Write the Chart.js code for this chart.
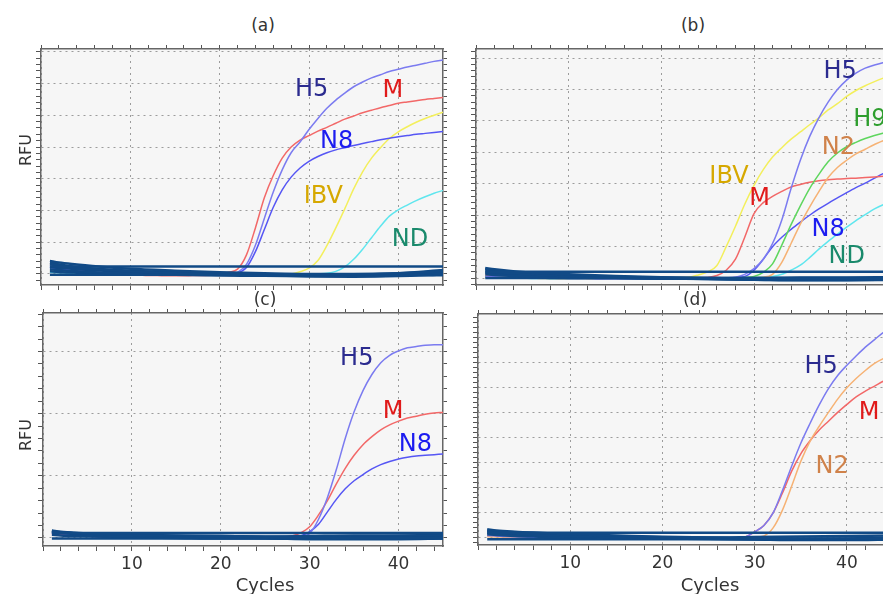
<!DOCTYPE html>
<html>
<head>
<meta charset="utf-8">
<script src="https://cdn.jsdelivr.net/npm/chart.js@4.4.1/dist/chart.umd.min.js"></script>
<style>
  body { margin: 0; width: 883px; height: 594px; overflow: hidden; background: #fff; position: relative;
         font-family: 'DejaVu Sans', sans-serif; color: #333; }
  .box { position: absolute; }
  .txt { position: absolute; transform: translate(-50%, -50%); white-space: nowrap; }
  .rot { transform: translate(-50%, -50%) rotate(-90deg); }
</style>
</head>
<body>
<div class="box" style="left:33px;top:43px"><canvas id="ca" width="416" height="248"></canvas></div>
<div class="box" style="left:468px;top:43px"><canvas id="cb" width="431" height="248"></canvas></div>
<div class="box" style="left:35px;top:307px"><canvas id="cc" width="414" height="269"></canvas></div>
<div class="box" style="left:470px;top:308px"><canvas id="cd" width="429" height="267"></canvas></div>

<div class="txt" style="left:263px;top:25px;font-size:17px">(a)</div>
<div class="txt" style="left:693px;top:25px;font-size:17px">(b)</div>
<div class="txt" style="left:265px;top:299px;font-size:17px">(c)</div>
<div class="txt" style="left:695px;top:299px;font-size:17px">(d)</div>
<div class="txt rot" style="left:25px;top:150px;font-size:16px">RFU</div>
<div class="txt rot" style="left:25px;top:435px;font-size:16px">RFU</div>
<div class="txt" style="left:265px;top:584px;font-size:18px">Cycles</div>
<div class="txt" style="left:710px;top:584px;font-size:18px">Cycles</div>

<script>
// cycle numbers for the amplification curves
const cycles = [1,2,3,4,5,6,7,8,9,10,11,12,13,14,15,16,17,18,19,20,21,22,23,24,25,26,27,28,29,30,
  31,32,33,34,35,36,37,38,39,40,41,42,43,44,45];
// cycles where the baseline traces were read
const baseCycles = [1, 2, 4, 7, 10, 15, 20, 25, 30, 35, 40, 45];

// ---- panel (a) ----
const aH5 = [0.25,0.2,0.15,0.1,0.08,0.05,0.03,0.02,0.0,-0.01,-0.02,-0.02,-0.03,-0.03,-0.03,-0.03,-0.03,-0.02,-0.02,-0.01,
  0.0,0.05,0.3,0.9,1.75,2.58,3.28,3.82,4.16,4.55,4.9,5.22,5.48,5.7,5.9,6.05,6.18,6.28,6.38,6.45,6.52,6.58,6.64,6.7,6.74];
const aM = [0.3,0.25,0.18,0.12,0.08,0.05,0.02,0.0,-0.02,-0.03,-0.04,-0.05,-0.05,-0.06,-0.06,-0.06,-0.05,-0.05,-0.04,-0.02,
  0.05,0.15,0.6,1.45,2.4,3.1,3.65,4.0,4.22,4.36,4.5,4.62,4.75,4.88,4.98,5.08,5.16,5.24,5.31,5.38,5.42,5.46,5.5,5.53,5.56];
const aN8 = [0.2,0.16,0.12,0.08,0.05,0.03,0.01,0.0,-0.01,-0.02,-0.02,-0.03,-0.03,-0.03,-0.03,-0.03,-0.02,-0.02,-0.02,-0.01,0.0,
  0.03,0.2,0.7,1.4,2.1,2.65,3.05,3.34,3.55,3.7,3.82,3.91,3.98,4.05,4.11,4.17,4.23,4.28,4.32,4.36,4.4,4.43,4.46,4.49];
const aIBV = [0.1,0.08,0.06,0.04,0.03,0.02,0.01,0.0,0.0,-0.01,-0.01,-0.02,-0.02,-0.02,-0.03,-0.03,-0.03,-0.03,-0.03,-0.03,
  -0.03,-0.03,-0.03,-0.03,-0.02,-0.02,-0.01,0.0,0.07,0.18,0.42,0.89,1.45,2.05,2.68,3.22,3.65,3.98,4.27,4.48,4.64,4.78,4.9,5.0,5.1];
const aND = [0.05,0.04,0.03,0.02,0.01,0.0,0.0,-0.01,-0.01,-0.02,-0.02,-0.02,-0.03,-0.03,-0.03,-0.03,-0.03,-0.03,-0.03,-0.03,
  -0.03,-0.03,-0.03,-0.03,-0.03,-0.03,-0.02,-0.02,-0.02,-0.01,0.0,0.02,0.08,0.22,0.46,0.78,1.14,1.5,1.82,2.02,2.17,2.31,2.43,2.54,2.63];
const aBase = [
  [0.23,0.23,0.23,0.23,0.23,0.23,0.23,0.23,0.23,0.23,0.23,0.23],
  [0.41,0.36,0.3,0.22,0.16,0.1,0.05,0.02,0.0,0.0,0.02,0.08],
  [0.3,0.26,0.2,0.13,0.08,0.02,-0.02,-0.04,-0.06,-0.07,-0.04,0.04],
  [0.15,0.12,0.08,0.04,0.0,-0.03,-0.05,-0.06,-0.08,-0.09,-0.07,-0.02],
  [-0.03,-0.03,-0.03,-0.03,-0.03,-0.03,-0.03,-0.03,-0.03,-0.03,-0.03,-0.03],
  [0.35,0.3,0.22,0.15,0.1,0.05,0.0,-0.04,-0.05,-0.03,0.02,0.12],
  [0.22,0.19,0.15,0.1,0.06,0.03,0.01,-0.01,-0.03,-0.05,-0.05,-0.04],
  [0.08,0.06,0.04,0.02,0.01,0.0,-0.01,-0.02,-0.03,-0.04,-0.02,0.01]
];

// ---- panel (b) ----
const bIBV = [0.15,0.12,0.1,0.08,0.06,0.05,0.04,0.03,0.02,0.01,0.0,0.0,0.0,-0.01,-0.01,-0.01,-0.01,0.0,0.0,0.0,0.01,0.02,
  0.03,0.1,0.2,0.4,1.0,1.65,2.35,2.95,3.45,3.85,4.15,4.42,4.65,4.88,5.1,5.35,5.55,5.78,5.97,6.12,6.25,6.37,6.47];
const bM = [0.1,0.08,0.06,0.05,0.04,0.03,0.02,0.01,0.0,0.0,0.0,-0.01,-0.01,-0.01,-0.01,-0.01,-0.01,-0.01,0.0,0.0,0.0,0.0,0.01,0.01,
  0.02,0.08,0.25,0.6,1.3,2.05,2.4,2.6,2.76,2.9,2.98,3.05,3.1,3.13,3.15,3.17,3.18,3.2,3.22,3.24,3.26];
const bH5 = [0.05,0.04,0.03,0.02,0.01,0.0,0.0,-0.01,-0.01,-0.02,-0.02,-0.02,-0.03,-0.03,-0.03,-0.03,-0.03,-0.03,-0.03,-0.03,
  -0.03,-0.03,-0.02,-0.02,-0.01,0.0,0.01,0.03,0.12,0.3,0.6,1.1,1.85,2.85,3.75,4.5,5.1,5.6,6.0,6.3,6.52,6.68,6.78,6.86,6.93];
const bH9 = [0.05,0.04,0.03,0.02,0.01,0.0,0.0,-0.01,-0.01,-0.02,-0.02,-0.02,-0.02,-0.03,-0.03,-0.03,-0.03,-0.03,-0.03,-0.03,
  -0.03,-0.03,-0.02,-0.02,-0.01,-0.01,0.0,0.01,0.02,0.05,0.18,0.45,1.05,1.7,2.3,2.85,3.3,3.7,3.98,4.18,4.32,4.44,4.54,4.62,4.68];
const bN2 = [0.04,0.03,0.02,0.01,0.0,0.0,-0.01,-0.01,-0.02,-0.02,-0.02,-0.03,-0.03,-0.03,-0.03,-0.03,-0.03,-0.03,-0.03,-0.03,
  -0.03,-0.03,-0.03,-0.02,-0.02,-0.01,-0.01,0.0,0.01,0.02,0.03,0.12,0.5,1.1,1.72,2.26,2.75,3.2,3.52,3.75,3.95,4.1,4.25,4.38,4.46];
const bN8 = [0.06,0.05,0.04,0.03,0.02,0.01,0.0,0.0,-0.01,-0.01,-0.02,-0.02,-0.02,-0.02,-0.03,-0.03,-0.03,-0.03,-0.03,-0.03,
  -0.03,-0.02,-0.02,-0.01,-0.01,0.0,0.0,0.02,0.05,0.25,0.6,1.0,1.3,1.55,1.78,2.0,2.2,2.38,2.55,2.72,2.88,3.02,3.18,3.33,3.45];
const bND = [0.03,0.02,0.01,0.0,0.0,-0.01,-0.01,-0.02,-0.02,-0.02,-0.03,-0.03,-0.03,-0.03,-0.03,-0.03,-0.03,-0.03,-0.03,-0.03,
  -0.03,-0.03,-0.03,-0.03,-0.02,-0.02,-0.01,-0.01,0.0,0.01,0.03,0.05,0.12,0.25,0.41,0.65,0.92,1.17,1.4,1.62,1.83,2.02,2.2,2.34,2.45];
const bBase = [
  [0.2,0.2,0.2,0.2,0.2,0.2,0.2,0.2,0.2,0.2,0.2,0.2],
  [0.32,0.28,0.22,0.16,0.12,0.07,0.03,0.0,-0.02,-0.03,-0.03,-0.02],
  [0.25,0.2,0.15,0.1,0.06,0.02,0.0,-0.02,-0.05,-0.06,-0.06,-0.05],
  [0.12,0.1,0.07,0.04,0.02,0.0,-0.02,-0.03,-0.05,-0.07,-0.07,-0.06],
  [0.0,0.0,0.0,0.0,0.0,0.0,0.0,0.0,0.0,0.0,0.0,0.0],
  [0.3,0.25,0.18,0.12,0.08,0.04,0.01,0.0,0.0,0.02,0.02,0.03],
  [0.18,0.15,0.11,0.07,0.04,0.01,-0.01,-0.03,-0.04,-0.05,-0.04,-0.03]
];

// ---- panel (c) ----
const cH5 = [0.08,0.07,0.06,0.05,0.04,0.03,0.02,0.02,0.01,0.01,0,0,0,0,0,0,0,0,0,0,0,0,0,0,0,0,0,
  0.0,0.02,0.07,0.3,0.65,1.1,1.6,2.03,2.37,2.63,2.82,2.94,3.01,3.06,3.08,3.1,3.11,3.11];
const cM = [0.06,0.05,0.04,0.03,0.03,0.02,0.02,0.01,0.01,0,0,0,0,0,0,0,0,0,0,0,0,0,0,0,0,0,
  0.01,0.03,0.08,0.18,0.37,0.6,0.87,1.12,1.33,1.5,1.63,1.74,1.82,1.88,1.93,1.96,1.99,2.01,2.02];
const cN8 = [0.07,0.06,0.05,0.04,0.03,0.02,0.02,0.01,0.01,0,0,0,0,0,0,0,0,0,0,0,0,0,0,0,0,0,0,0,
  0.03,0.1,0.22,0.42,0.62,0.79,0.92,1.02,1.11,1.18,1.23,1.27,1.3,1.32,1.33,1.34,1.35];
const cBase = [
  [0.08,0.08,0.08,0.08,0.08,0.08,0.08,0.08,0.08,0.08,0.08,0.08],
  [0.12,0.1,0.08,0.06,0.05,0.04,0.03,0.02,0.01,0.0,0.0,0.0],
  [0.09,0.08,0.06,0.04,0.03,0.02,0.01,0.0,-0.01,-0.01,-0.01,0.01],
  [0.05,0.04,0.03,0.02,0.01,0.0,-0.01,-0.01,-0.02,-0.02,-0.02,-0.01],
  [-0.01,-0.01,-0.01,-0.01,-0.01,-0.01,-0.01,-0.01,-0.01,-0.01,-0.01,-0.01],
  [0.1,0.09,0.07,0.05,0.04,0.03,0.02,0.02,0.03,0.04,0.04,0.05],
  [0.11,0.09,0.07,0.05,0.04,0.03,0.03,0.02,0.02,0.02,0.03,0.03]
];

// ---- panel (d) ----
const dH5 = [0.1,0.08,0.06,0.05,0.04,0.03,0.02,0.01,0.0,0.0,-0.02,-0.02,-0.02,-0.02,-0.02,-0.02,-0.02,-0.02,-0.02,-0.02,
  -0.02,-0.02,-0.02,-0.02,-0.01,-0.01,0.0,0.0,0.04,0.24,0.5,1.0,1.88,2.85,3.77,4.56,5.3,5.95,6.47,6.88,7.25,7.6,7.9,8.2,8.4];
const dM = [0.1,0.08,0.06,0.05,0.04,0.03,0.02,0.01,0.0,0.0,-0.02,-0.02,-0.02,-0.02,-0.02,-0.02,-0.02,-0.02,-0.02,-0.02,
  -0.02,-0.02,-0.02,-0.02,-0.01,-0.01,0.0,0.0,0.04,0.24,0.5,1.0,1.78,2.65,3.35,3.87,4.3,4.65,5.0,5.32,5.62,5.85,6.05,6.25,6.4];
const dN2 = [0.05,0.04,0.03,0.02,0.01,0.0,0.0,-0.01,-0.01,-0.02,-0.02,-0.02,-0.02,-0.02,-0.02,-0.02,-0.02,-0.02,-0.02,-0.02,
  -0.02,-0.02,-0.02,-0.02,-0.02,-0.01,-0.01,0.0,0.0,0.03,0.08,0.4,1.1,2.05,3.05,3.85,4.45,5.0,5.53,5.98,6.35,6.67,6.95,7.15,7.3];
const dBase = [
  [0.21,0.21,0.21,0.21,0.21,0.21,0.21,0.21,0.21,0.21,0.21,0.21],
  [0.35,0.3,0.25,0.2,0.15,0.1,0.05,0.02,0.0,-0.02,-0.02,0.0],
  [0.28,0.24,0.18,0.12,0.08,0.04,0.0,-0.03,-0.05,-0.06,-0.06,-0.04],
  [0.15,0.12,0.08,0.05,0.02,0.0,-0.02,-0.04,-0.06,-0.08,-0.08,-0.06],
  [-0.05,-0.05,-0.05,-0.05,-0.05,-0.05,-0.05,-0.05,-0.05,-0.05,-0.05,-0.05],
  [0.3,0.26,0.2,0.15,0.1,0.06,0.03,0.02,0.04,0.06,0.08,0.1],
  [0.2,0.17,0.13,0.09,0.06,0.03,0.01,0.0,-0.02,-0.03,-0.02,0.02]
];

// line colours and label colours
const col = { H5: '#7b7bf0', N8: '#5656f4', M: '#f26868', IBV: '#f3ef5c', ND: '#5fe6ee', H9: '#5ed65e', N2: '#f6b274', base: '#114a86' };
const tag = { H5: '#2b2b8f', N8: '#1c1cf0', M: '#e01a1a', IBV: '#d6a800', ND: '#1a8a6c', H9: '#2e9e2e', N2: '#d0824a' };

Chart.defaults.font.family = "'DejaVu Sans', sans-serif";

const plotBg = {
  id: 'plotBg',
  beforeDraw(chart) {
    const { ctx, chartArea: a } = chart;
    ctx.save();
    ctx.fillStyle = '#f6f6f6';
    ctx.fillRect(a.left, a.top, a.width, a.height);
    ctx.restore();
  }
};

// curve names written next to the curves (positions in data units)
const tags = {
  id: 'tags',
  afterDatasetsDraw(chart, args, opts) {
    const { ctx, scales } = chart;
    ctx.save();
    ctx.font = "24px 'DejaVu Sans'";
    ctx.textAlign = 'center';
    ctx.textBaseline = 'middle';
    opts.items.forEach(t => {
      ctx.fillStyle = tag[t.name];
      ctx.fillText(t.name, scales.x.getPixelForValue(t.x), scales.y.getPixelForValue(t.y));
    });
    ctx.restore();
  }
};

const isMajor = (v, m) => Math.abs(v / m - Math.round(v / m)) < 1e-6;
function stepTicks(step) {
  return scale => {
    const out = [];
    const n0 = Math.ceil(scale.min / step - 1e-9), n1 = Math.floor(scale.max / step + 1e-9);
    for (let n = n0; n <= n1; n++) out.push({ value: +(n * step).toFixed(4) });
    scale.ticks = out;
  };
}

function makeScales(yMin, yMax, showX) {
  const dots = m => c => (c.tick && isMajor(c.tick.value, m)) ? '#9c9c9c' : 'rgba(0,0,0,0)';
  const frame = { color: '#666', width: 1.5, dash: [2, 4] };
  return {
    x: {
      type: 'linear', position: 'bottom', min: 0, max: 45, afterBuildTicks: stepTicks(2),
      grid: { color: dots(10), tickColor: '#555', tickLength: 5 },
      border: frame,
      ticks: { display: showX, autoSkip: false, maxRotation: 0, padding: 3, color: '#333', font: { size: 17 },
               callback: v => (isMajor(v, 10) && v > 0) ? v : '' },
      afterFit: s => { s.height = showX ? 30 : 6; }
    },
    xTop: {
      type: 'linear', position: 'top', min: 0, max: 45, afterBuildTicks: stepTicks(2),
      grid: { drawOnChartArea: false, tickColor: '#555', tickLength: 4 },
      border: frame, ticks: { display: false },
      afterFit: s => { s.height = 6; }
    },
    y: {
      type: 'linear', position: 'left', min: yMin, max: yMax, afterBuildTicks: stepTicks(0.2),
      grid: { color: dots(1), tickColor: '#555', tickLength: 5 },
      border: frame, ticks: { display: false },
      afterFit: s => { s.width = 8; }
    },
    yRight: {
      type: 'linear', position: 'right', min: yMin, max: yMax, afterBuildTicks: stepTicks(0.2),
      grid: { drawOnChartArea: false, tickColor: '#555', tickLength: 4 },
      border: frame, ticks: { display: false },
      afterFit: s => { s.width = 6; }
    }
  };
}

function curve(vals, color) {
  return { data: cycles.map((c, i) => ({ x: c, y: vals[i] })), borderColor: color, borderWidth: 1.5,
           pointRadius: 0, cubicInterpolationMode: 'monotone', fill: false };
}
function baseline(vals) {
  return { data: baseCycles.map((c, i) => ({ x: c, y: vals[i] })), borderColor: col.base, borderWidth: 2.5,
           pointRadius: 0, cubicInterpolationMode: 'monotone', fill: false };
}

function panel(id, yMin, yMax, showX, bases, curves, items) {
  new Chart(document.getElementById(id), {
    type: 'line',
    data: { datasets: bases.map(baseline).concat(curves) },
    options: {
      responsive: false, animation: false, events: [],
      layout: { padding: 0 },
      scales: makeScales(yMin, yMax, showX),
      plugins: { legend: { display: false }, tooltip: { enabled: false }, tags: { items } }
    },
    plugins: [plotBg, tags]
  });
}

panel('ca', -0.35, 7.09, false, aBase,
  [curve(aH5, col.H5), curve(aM, col.M), curve(aN8, col.N8), curve(aIBV, col.IBV), curve(aND, col.ND)],
  [{ name: 'H5', x: 30.3, y: 5.82 }, { name: 'M', x: 39.4, y: 5.76 }, { name: 'N8', x: 33.1, y: 4.18 },
   { name: 'IBV', x: 31.6, y: 2.44 }, { name: 'ND', x: 41.3, y: 1.09 }]);

panel('cb', -0.22, 7.29, false, bBase,
  [curve(bH5, col.H5), curve(bIBV, col.IBV), curve(bH9, col.H9), curve(bN2, col.N2), curve(bM, col.M),
   curve(bN8, col.N8), curve(bND, col.ND)],
  [{ name: 'H5', x: 39.3, y: 6.56 }, { name: 'H9', x: 42.5, y: 5.03 }, { name: 'N2', x: 39.1, y: 4.14 },
   { name: 'IBV', x: 27.3, y: 3.22 }, { name: 'M', x: 30.6, y: 2.52 }, { name: 'N8', x: 38.0, y: 1.53 },
   { name: 'ND', x: 40.0, y: 0.67 }]);

panel('cc', -0.13, 3.62, true, cBase,
  [curve(cH5, col.H5), curve(cM, col.M), curve(cN8, col.N8)],
  [{ name: 'H5', x: 35.3, y: 2.88 }, { name: 'M', x: 39.4, y: 2.03 }, { name: 'N8', x: 41.9, y: 1.5 }]);

panel('cd', -0.28, 8.92, true, dBase,
  [curve(dH5, col.H5), curve(dN2, col.N2), curve(dM, col.M)],
  [{ name: 'H5', x: 37.2, y: 6.81 }, { name: 'M', x: 42.4, y: 4.98 }, { name: 'N2', x: 38.4, y: 2.83 }]);
</script>
</body>
</html>
